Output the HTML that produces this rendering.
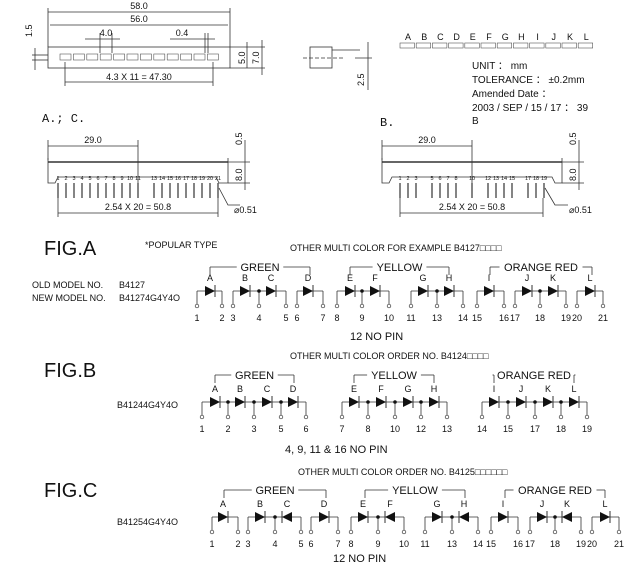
<!DOCTYPE html>
<html><head><meta charset="utf-8"><style>
html,body{margin:0;padding:0;background:#fff}
svg{display:block;font-family:"Liberation Sans",sans-serif}
text{fill:#111}
</style></head><body>
<svg id="s" width="644" height="573" viewBox="0 0 644 573" xmlns="http://www.w3.org/2000/svg">
<g stroke="#333" stroke-width="0.8" fill="none">
 <rect x="48" y="47" width="182" height="21"/>
 <line x1="48" y1="12" x2="230" y2="12"/><line x1="48" y1="8" x2="48" y2="47"/><line x1="230" y1="8" x2="230" y2="47"/>
 <line x1="50" y1="25" x2="228" y2="25"/>
 <line x1="85" y1="39" x2="120" y2="39"/><line x1="100" y1="33" x2="100" y2="53"/><line x1="112" y1="33" x2="112" y2="53"/>
 <line x1="170" y1="39" x2="215" y2="39"/><line x1="205" y1="33" x2="205" y2="53"/><line x1="208" y1="33" x2="208" y2="53"/>
 <line x1="65" y1="82" x2="213" y2="82"/>
 <line x1="65" y1="62" x2="65" y2="86"/><line x1="213" y1="62" x2="213" y2="86"/>
 <line x1="35" y1="48" x2="35" y2="70"/><line x1="32" y1="55" x2="48" y2="55"/><line x1="32" y1="60" x2="48" y2="60"/>
 <line x1="230" y1="47" x2="265" y2="47"/><line x1="230" y1="68" x2="265" y2="68"/>
 <line x1="247" y1="42" x2="247" y2="68"/><line x1="262" y1="40" x2="262" y2="75"/>
 <rect x="310" y="47" width="22" height="21"/><line x1="332" y1="50" x2="360" y2="50"/>
 <line x1="303" y1="58" x2="345" y2="58" stroke-dasharray="4 2"/>
 <line x1="368" y1="42" x2="368" y2="90"/><line x1="355" y1="58" x2="372" y2="58"/>
 <line x1="48" y1="162" x2="228" y2="162" stroke-width="1.4"/>
 <path d="M48 158 V183 H55 L58 177 H216 L219 183 H228 V158"/>
 <line x1="48" y1="140" x2="48" y2="160"/><line x1="48" y1="146" x2="138" y2="146"/><line x1="138" y1="140" x2="138" y2="185"/>
 <line x1="58" y1="213" x2="218" y2="213"/><line x1="58" y1="198" x2="58" y2="217"/><line x1="218" y1="198" x2="218" y2="217"/>
 <line x1="228" y1="162" x2="250" y2="162"/><line x1="228" y1="183" x2="250" y2="183"/><line x1="245" y1="140" x2="245" y2="190"/>
 <path d="M219 188 L228 205 H240"/>
 <line x1="382" y1="162" x2="562" y2="162" stroke-width="1.4"/>
 <path d="M382 158 V183 H389 L392 177 H552 L555 183 H562 V158"/>
 <line x1="382" y1="140" x2="382" y2="160"/><line x1="382" y1="146" x2="472" y2="146"/><line x1="472" y1="140" x2="472" y2="185"/>
 <line x1="400" y1="213" x2="543" y2="213"/><line x1="400" y1="198" x2="400" y2="217"/><line x1="543" y1="198" x2="543" y2="217"/>
 <line x1="562" y1="162" x2="584" y2="162"/><line x1="562" y1="183" x2="584" y2="183"/><line x1="579" y1="140" x2="579" y2="190"/>
 <path d="M545 188 L555 205 H568"/>
</g>
<g id="dyn"></g>
<g font-size="9">
 <text x="139" y="9" text-anchor="middle">58.0</text>
 <text x="139" y="22" text-anchor="middle">56.0</text>
 <text x="106" y="36" text-anchor="middle">4.0</text>
 <text x="182" y="36" text-anchor="middle">0.4</text>
 <text x="139" y="80" text-anchor="middle">4.3 X 11 = 47.30</text>
 <text transform="translate(32,37) rotate(-90)">1.5</text>
 <text transform="translate(245,64) rotate(-90)">5.0</text>
 <text transform="translate(259,64) rotate(-90)">7.0</text>
 <text transform="translate(364,86) rotate(-90)">2.5</text>
 <text x="93" y="143" text-anchor="middle">29.0</text>
 <text x="138" y="210" text-anchor="middle">2.54 X 20 = 50.8</text>
 <text transform="translate(242,145) rotate(-90)">0.5</text>
 <text transform="translate(242,181) rotate(-90)">8.0</text>
 <text x="234" y="213">⌀0.51</text>
 <text x="427" y="143" text-anchor="middle">29.0</text>
 <text x="472" y="210" text-anchor="middle">2.54 X 20 = 50.8</text>
 <text transform="translate(576,145) rotate(-90)">0.5</text>
 <text transform="translate(576,181) rotate(-90)">8.0</text>
 <text x="569" y="213">⌀0.51</text>
</g>
<g font-size="10">
 <text x="472" y="69">UNIT ： mm</text>
 <text x="472" y="83">TOLERANCE ： ±0.2mm</text>
 <text x="472" y="97">Amended  Date ：</text>
 <text x="472" y="111">2003 / SEP / 15 / 17 ： 39</text>
 <text x="472" y="124">B</text>
</g>
<g font-family="Liberation Mono,monospace" font-size="12">
 <text x="42" y="122">A.; C.</text>
 <text x="380" y="126">B.</text>
</g>
<g font-size="20">
 <text x="44" y="255">FIG.A</text>
 <text x="44" y="377">FIG.B</text>
 <text x="44" y="497">FIG.C</text>
</g>
<g font-size="9">
 <text x="145" y="248">*POPULAR TYPE</text>
 <text x="290" y="251">OTHER MULTI COLOR FOR EXAMPLE B4127□□□□</text>
 <text x="32" y="288">OLD MODEL NO.</text><text x="119" y="288">B4127</text>
 <text x="32" y="301">NEW MODEL NO.</text><text x="119" y="301">B41274G4Y4O</text>
 <text x="290" y="359">OTHER MULTI COLOR ORDER NO. B4124□□□□</text>
 <text x="117" y="408">B41244G4Y4O</text>
 <text x="298" y="475">OTHER MULTI COLOR ORDER NO. B4125□□□□□□</text>
 <text x="117" y="525">B41254G4Y4O</text>
</g>
<g font-size="11">
 <text x="350" y="340">12 NO PIN</text>
 <text x="285" y="453">4, 9, 11 &amp; 16 NO PIN</text>
 <text x="333" y="562">12  NO  PIN</text>
</g>
</svg>
<script>
var NS="http://www.w3.org/2000/svg",G=document.getElementById("dyn");
function el(t,a,txt){var e=document.createElementNS(NS,t);for(var k in a)e.setAttribute(k,a[k]);if(txt!=null)e.textContent=txt;G.appendChild(e);return e;}
function ln(x1,y1,x2,y2,w){el("line",{x1:x1,y1:y1,x2:x2,y2:y2,stroke:"#333","stroke-width":w||0.8});}
function tx(x,y,s,fs,anc){el("text",{x:x,y:y,"font-size":fs||9,"text-anchor":anc||"middle"},s);}
for(var i=0;i<12;i++){el("rect",{x:60+i*13.4,y:54,width:11,height:6,fill:"none",stroke:"#555","stroke-width":0.6});}
"ABCDEFGHIJKL".split("").forEach(function(c,i){var x=400+i*16.2;tx(x+8,40,c,9);el("rect",{x:x,y:43,width:14.5,height:5,fill:"none",stroke:"#555","stroke-width":0.6});});
function pins(x0,list){list.forEach(function(n){var x=x0+(n-1)*8;ln(x,183,x,198,1.2);tx(x,180,""+n,5.5);});}
pins(58,[1,2,3,4,5,6,7,8,9,10,11,13,14,15,16,17,18,19,20,21]);
pins(400,[1,2,3,5,6,7,8,10,12,13,14,15,17,18,19]);
function unit(Y,items){
 var ps=items.filter(function(it){return it[0]=="p"});var x0=ps[0][1],x1=ps[ps.length-1][1];
 ln(x0,Y,x1,Y);
 items.forEach(function(it,idx){
  if(it[0]=="p"){var x=it[1];ln(x,Y,x,Y+13);el("circle",{cx:x,cy:Y+15,r:1.8,fill:"#fff",stroke:"#333","stroke-width":0.7});tx(x,Y+30,""+it[2],9);
   if(idx!=0&&idx!=items.length-1)el("circle",{cx:x,cy:Y,r:1.8,fill:"#111"});}
  else{var x=it[1],d=it[3]||1;var a=x-5*d,b=x+5*d;el("polygon",{points:a+","+(Y-5)+" "+a+","+(Y+5)+" "+b+","+Y,fill:"#111"});ln(b,Y-6,b,Y+6,1);tx(x,Y-10,it[2],9);}
 });
}
function group(Y,x0,x1,name){var c=(x0+x1)/2,w=name.length*7.3+10;ln(x0,Y,c-w/2,Y);ln(c+w/2,Y,x1,Y);ln(x0,Y,x0,Y+8);ln(x1,Y,x1,Y+8);tx(c,Y+4,name,11);}
var Y=291;
unit(Y,[["p",197,1],["d",210,"A"],["p",222,2]]);
unit(Y,[["p",233,3],["d",245,"B"],["p",259,4],["d",271,"C"],["p",286,5]]);
unit(Y,[["p",297,6],["d",308,"D"],["p",323,7]]);
unit(Y,[["p",337,8],["d",350,"E"],["p",362,9],["d",375,"F"],["p",389,10]]);
unit(Y,[["p",411,11],["d",423,"G"],["p",437,13],["d",449,"H"],["p",463,14]]);
unit(Y,[["p",477,15],["d",489,"I"],["p",504,16]]);
unit(Y,[["p",515,17],["d",527,"J"],["p",540,18],["d",553,"K"],["p",566,19]]);
unit(Y,[["p",577,20],["d",590,"L"],["p",603,21]]);
group(267,210,310,"GREEN");group(267,350,449,"YELLOW");group(267,490,592,"ORANGE RED");
Y=402;
unit(Y,[["p",202,1],["d",215,"A"],["p",228,2],["d",240,"B"],["p",254,3],["d",267,"C"],["p",281,5],["d",293,"D"],["p",306,6]]);
unit(Y,[["p",342,7],["d",354,"E"],["p",368,8],["d",381,"F"],["p",395,10],["d",408,"G"],["p",421,12],["d",434,"H"],["p",447,13]]);
unit(Y,[["p",482,14],["d",494,"I"],["p",508,15],["d",521,"J"],["p",535,17],["d",548,"K"],["p",561,18],["d",574,"L"],["p",587,19]]);
group(375,215,294,"GREEN");group(375,354,434,"YELLOW");group(375,494,574,"ORANGE RED");
Y=517;
unit(Y,[["p",212,1],["d",223,"A"],["p",238,2]]);
unit(Y,[["p",248,3],["d",260,"B"],["p",275,4],["d",287,"C",-1],["p",301,5]]);
unit(Y,[["p",311,6],["d",324,"D"],["p",338,7]]);
unit(Y,[["p",351,8],["d",363,"E"],["p",378,9],["d",390,"F",-1],["p",404,10]]);
unit(Y,[["p",425,11],["d",437,"G"],["p",452,13],["d",464,"H",-1],["p",478,14]]);
unit(Y,[["p",491,15],["d",503,"I"],["p",518,16]]);
unit(Y,[["p",530,17],["d",542,"J"],["p",555,18],["d",567,"K",-1],["p",581,19]]);
unit(Y,[["p",592,20],["d",605,"L"],["p",619,21]]);
group(490,224,326,"GREEN");group(490,365,465,"YELLOW");group(490,505,605,"ORANGE RED");
</script>
</body></html>
